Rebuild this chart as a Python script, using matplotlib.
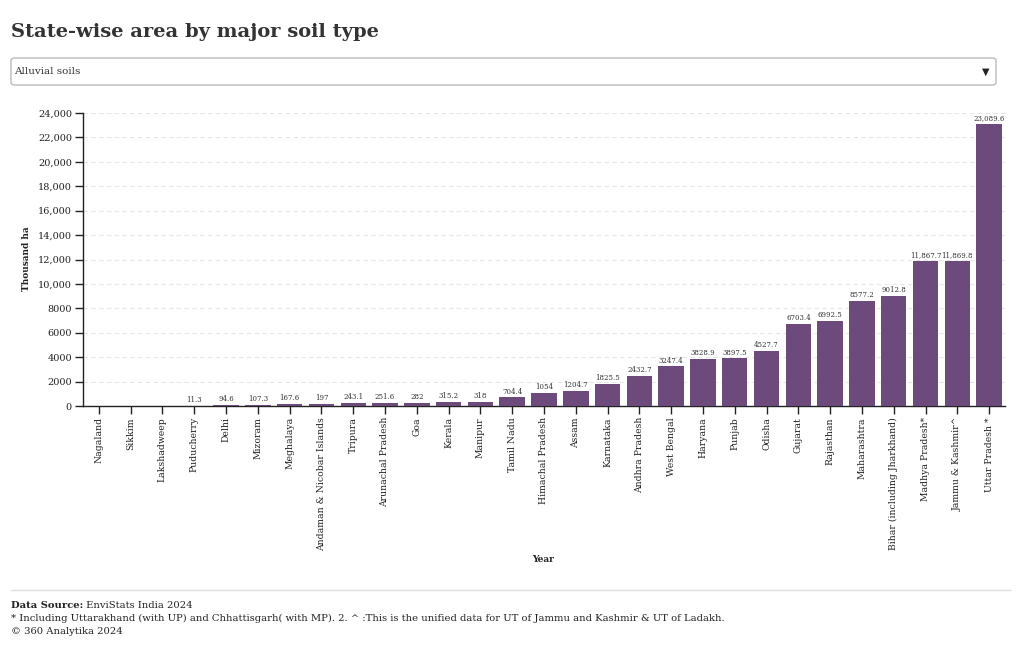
import matplotlib
matplotlib.use('Agg')
import matplotlib.pyplot as plt
from matplotlib.patches import FancyBboxPatch
from matplotlib.lines import Line2D

plt.rcParams['font.family'] = ['DejaVu Serif']

# ── 데이터 ─────────────────────────────────────────────
states = ['Nagaland', 'Sikkim', 'Lakshadweep', 'Puducherry', 'Delhi', 'Mizoram',
          'Meghalaya', 'Andaman & Nicobar Islands', 'Tripura', 'Arunachal Pradesh',
          'Goa', 'Kerala', 'Manipur', 'Tamil Nadu', 'Himachal Pradesh', 'Assam',
          'Karnataka', 'Andhra Pradesh', 'West Bengal', 'Haryana', 'Punjab', 'Odisha',
          'Gujarat', 'Rajasthan', 'Maharashtra', 'Bihar (including Jharkhand)',
          'Madhya Pradesh*', 'Jammu & Kashmir^', 'Uttar Pradesh *']
area = [0, 0, 0, 11.3, 94.6, 107.3, 167.6, 197, 243.1, 251.6, 282, 315.2, 318,
        704.4, 1054, 1204.7, 1825.5, 2432.7, 3247.4, 3828.9, 3897.5, 4527.7,
        6703.4, 6992.5, 8577.2, 9012.8, 11867.7, 11869.8, 23089.6]
yticks = list(range(0, 24001, 2000))

bar_color = '#6d4a7c'
text_color = '#333333'

fig = plt.figure(figsize=(10.2, 6.5), dpi=100)

# ── 제목 & 드롭다운 ──────────────────────────────────────
fig.text(11/1020, 1 - 32/650, 'State-wise area by major soil type', fontsize=14,
         fontweight='bold', color='#333333', va='center', ha='left')

box = FancyBboxPatch((11/1020, 1 - 85/650), 985/1020, 27/650,
                     boxstyle='round,pad=0,rounding_size=0.004',
                     transform=fig.transFigure, facecolor='white',
                     edgecolor='#bbbbbb', linewidth=1)
fig.patches.append(box)
fig.text(14/1020, 1 - 72/650, 'Alluvial soils', fontsize=7.5, color='#333333',
         va='center', ha='left')
fig.text(986/1020, 1 - 72/650, '▼', fontsize=7, color='#222222',
         va='center', ha='center')

# ── 막대 그래프 ───────────────────────────────────────────
ax = fig.add_axes([83/1020, 1 - 406/650, 922/1020, (406 - 113)/650])
x = list(range(len(states)))
ax.bar(x, area, width=0.8, color=bar_color, zorder=3)

def fmt(v):
    if v >= 10000:
        return f'{v:,.1f}'
    if v == int(v):
        return f'{int(v)}'
    return f'{v}'

for xi, v in zip(x, area):
    if v > 0:
        ax.text(xi, v + 150, fmt(v), ha='center', va='bottom', fontsize=5,
                color=text_color)

ax.set_xlim(-0.5, len(states) - 0.5)
ax.set_ylim(0, 24000)
ax.set_yticks(yticks)
ax.set_yticklabels([f'{t:,}' if t >= 10000 else str(t) for t in yticks],
                   fontsize=7, color='#222222')
ax.set_xticks(x)
ax.set_xticklabels(states, rotation=90, fontsize=6.7, color='#222222')
ax.tick_params(axis='both', direction='out', length=6, width=1, color='#222222', pad=2)
ax.yaxis.grid(True, linestyle=(0, (4, 3)), color='#e6e6e6', linewidth=0.8, zorder=0)
for s in ['top', 'right']:
    ax.spines[s].set_visible(False)
for s in ['left', 'bottom']:
    ax.spines[s].set_color('#222222')
    ax.spines[s].set_linewidth(1)

fig.text(27/1020, 1 - 259/650, 'Thousand ha', rotation=90, fontsize=6.5,
         fontweight='bold', color='#222222', ha='center', va='center')
fig.text(543/1020, 1 - 560/650, 'Year', fontsize=6.5, fontweight='bold',
         color='#222222', ha='center', va='center')

# ── 하단 출처 ─────────────────────────────────────────────
fig.add_artist(Line2D([11/1020, 1010/1020], [1 - 590/650, 1 - 590/650],
                      color='#dddddd', linewidth=1))
src = fig.text(11/1020, 1 - 605/650, 'Data Source:', fontsize=7.2, fontweight='bold',
               color='#222222', va='center')
ax.annotate(' EnviStats India 2024', xy=(1, 0.5), xycoords=src, fontsize=7.2,
            color='#222222', va='center', ha='left')
fig.text(11/1020, 1 - 618/650,
         '* Including Uttarakhand (with UP) and Chhattisgarh( with MP). 2. ^ :This is the unified data for UT of Jammu and Kashmir & UT of Ladakh.',
         fontsize=7.2, color='#222222', va='center')
fig.text(11/1020, 1 - 632/650, '© 360 Analytika 2024', fontsize=7.2,
         color='#222222', va='center')

fig.savefig('out.png', dpi=100)
